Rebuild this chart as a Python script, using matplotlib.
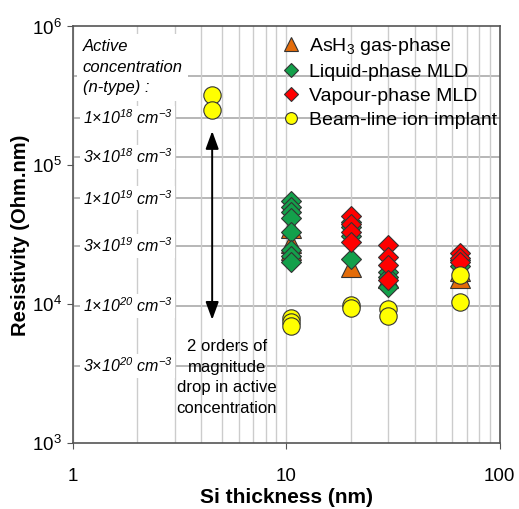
import numpy as np
import matplotlib.pyplot as plt
from matplotlib.ticker import FixedLocator, FixedFormatter

plt.rcParams['font.family'] = ['Liberation Sans', 'DejaVu Sans']
plt.rcParams['mathtext.default'] = 'regular'

# --- data ---
ash3_x = [10.5, 10.5, 10.5, 20, 30, 65, 65]
ash3_y = [3.56e4, 2.78e4, 2.47e4, 1.87e4, 1.56e4, 1.56e4, 1.75e4]

liquid_x = [10.5, 10.5, 10.5, 10.5, 10.5, 10.5, 10.5, 10.5, 20, 20, 20, 20, 30, 30, 30, 65, 65]
liquid_y = [5.57e4, 5.05e4, 4.64e4, 4.20e4, 3.34e4, 2.47e4, 2.24e4, 2.03e4,
            3.94e4, 3.6e4, 3.12e4, 2.13e4, 1.72e4, 1.58e4, 1.34e4, 2.10e4, 1.90e4]

vapour_x = [20, 20, 20, 20, 30, 30, 30, 30, 65, 65, 65]
vapour_y = [4.35e4, 3.81e4, 3.34e4, 2.83e4, 2.69e4, 2.20e4, 1.93e4, 1.51e4, 2.35e4, 2.17e4, 2.03e4]

implant_x = [4.5, 4.5, 10.5, 10.5, 10.5, 20, 20, 30, 30, 65, 65]
implant_y = [3.23e5, 2.49e5, 8.0e3, 7.5e3, 7.0e3, 9.95e3, 9.46e3, 9.3e3, 8.3e3, 1.64e4, 1.045e4]

# resistivity equivalent of active concentration (n-type)
conc_res = [4.4e5, 2.2e5, 1.15e5, 5.8e4, 2.65e4, 9.8e3, 3.6e3]
conc_labels = ['', '1×10$^{18}$ cm$^{-3}$', '3×10$^{18}$ cm$^{-3}$', '1×10$^{19}$ cm$^{-3}$',
               '3×10$^{19}$ cm$^{-3}$', '1×10$^{20}$ cm$^{-3}$', '3×10$^{20}$ cm$^{-3}$']

x_ticks = [1, 10, 100]
x_ticklabels = ['1', '10', '100']

fig = plt.figure(figsize=(5.19, 5.09), dpi=100)
ax = fig.add_axes([0.140, 0.129, 0.823, 0.819])
ax.set_xscale('log')
ax.set_yscale('log')
ax.set_xlim(1, 100)
ax.set_ylim(1e3, 1e6)

# grid: light vertical lines, darker horizontal lines at concentrations
ax.grid(True, which='both', axis='x', color='#cccccc', lw=1.0, zorder=0)
for r in conc_res:
    ax.axhline(r, color='#aaaaaa', lw=1.2, zorder=0)

edge = '#333333'
ax.plot(ash3_x, ash3_y, '^', ms=14, mfc='#e36c0a', mec=edge, mew=0.8, ls='none', label='AsH$_3$ gas-phase', zorder=3)
ax.plot(liquid_x, liquid_y, 'D', ms=10.5, mfc='#13a04b', mec=edge, mew=0.8, ls='none', label='Liquid-phase MLD', zorder=4)
ax.plot(vapour_x, vapour_y, 'D', ms=10.5, mfc='#ff0000', mec=edge, mew=0.8, ls='none', label='Vapour-phase MLD', zorder=5)
ax.plot(implant_x, implant_y, 'o', ms=12.5, mfc='#ffff00', mec=edge, mew=0.8, ls='none', label='Beam-line ion implant', zorder=6)

# concentration labels on the left
bbox = dict(facecolor='white', edgecolor='none', pad=2)
for r, lab in zip(conc_res, conc_labels):
    if lab:
        ax.text(0.024, r, lab, transform=ax.get_yaxis_transform(), fontsize=11.5,
                style='italic', va='center', ha='left', bbox=bbox, zorder=2)
ax.text(0.024, 5.1e5, 'Active\nconcentration\n(n-type) :', transform=ax.get_yaxis_transform(),
        fontsize=12, style='italic', va='center', ha='left', linespacing=1.45,
        bbox=dict(facecolor='white', edgecolor='none', pad=4), zorder=2)

ax.annotate('', xy=(4.5, 7.4e3), xytext=(4.5, 1.85e5),
            arrowprops=dict(arrowstyle='<|-|>,head_length=0.6,head_width=0.22',
                            color='black', lw=1.4, mutation_scale=18), zorder=2)
ax.text(5.27, 2.98e3, '2 orders of\nmagnitude\ndrop in active\nconcentration', fontsize=12,
        ha='center', va='center', linespacing=1.45, zorder=2)

ax.legend(loc='upper left', bbox_to_anchor=(0.443, 1.02), frameon=False, fontsize=14,
          markerscale=0.68, handletextpad=0.3, labelspacing=0.33, handlelength=1.2)

ax.xaxis.set_major_locator(FixedLocator(x_ticks))
ax.xaxis.set_major_formatter(FixedFormatter(x_ticklabels))
ax.set_xlabel('Si thickness (nm)', fontsize=15, fontweight='bold', labelpad=2)
ax.set_ylabel('Resistivity (Ohm.nm)', fontsize=14.5, fontweight='bold', labelpad=2)
ax.tick_params(which='major', labelsize=13.5, length=4, color='#555555')
ax.tick_params(which='minor', length=0)
ax.tick_params(axis='x', pad=14)
for s in ax.spines.values():
    s.set_color('#555555')
    s.set_linewidth(1.2)

fig.savefig('out.png', dpi=100)
